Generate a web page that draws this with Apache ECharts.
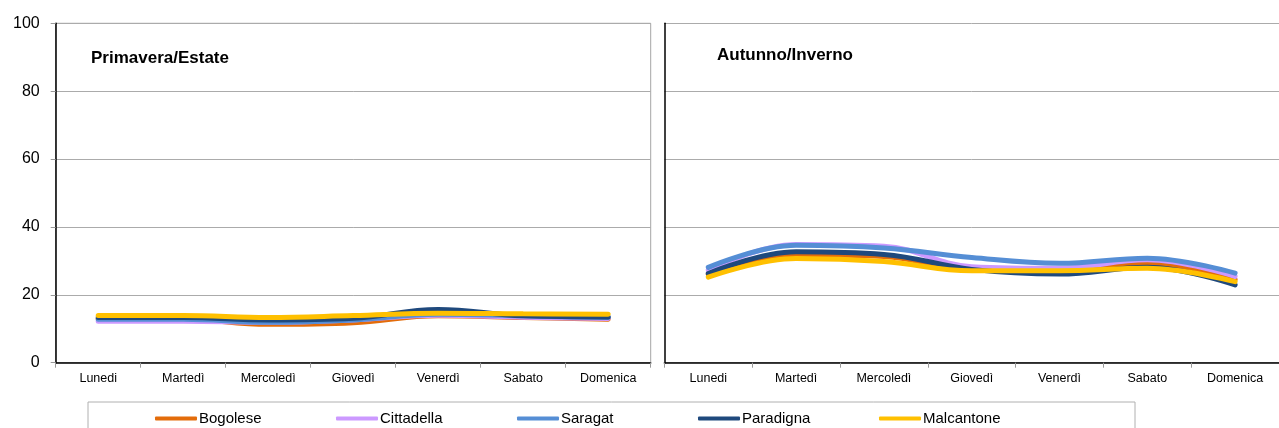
<!DOCTYPE html>
<html>
<head>
<meta charset="utf-8">
<script src="https://cdn.jsdelivr.net/npm/echarts@6/dist/echarts.min.js"></script>
<style>
html,body{margin:0;padding:0;background:#fff;}
#chart{width:1279px;height:428px;}
</style>
</head>
<body>
<div id="chart"></div>
<script>
const days = ['Lunedi', 'Martedì', 'Mercoledì', 'Giovedì', 'Venerdì', 'Sabato', 'Domenica'];
const seriesNames = ['Bogolese', 'Cittadella', 'Saragat', 'Paradigna', 'Malcantone'];
const seriesColors = ['#E36C0A', '#CC99FF', '#558ED5', '#1F497D', '#FFC000'];
const panelTitles = ['Primavera/Estate', 'Autunno/Inverno'];
const yTicks = [0, 20, 40, 60, 80, 100];

// Primavera/Estate
const springBogolese   = [13.0, 12.9, 11.3, 11.8, 13.8, 13.3, 12.8];
const springCittadella = [12.2, 12.2, 11.9, 12.6, 14.0, 13.4, 13.0];
const springSaragat    = [12.8, 12.8, 11.9, 12.6, 14.3, 13.8, 13.3];
const springParadigna  = [13.3, 13.3, 12.6, 13.1, 15.7, 13.8, 13.5];
const springMalcantone = [13.9, 13.9, 13.3, 13.9, 14.6, 14.4, 14.3];

// Autunno/Inverno
const autumnBogolese   = [26.0, 31.8, 31.3, 27.5, 27.3, 29.2, 24.5];
const autumnCittadella = [27.3, 34.8, 34.3, 28.3, 27.8, 30.3, 25.4];
const autumnSaragat    = [28.1, 34.6, 33.8, 31.0, 29.3, 30.8, 26.4];
const autumnParadigna  = [26.3, 32.7, 31.9, 27.5, 26.1, 28.1, 22.9];
const autumnMalcantone = [25.2, 30.7, 29.8, 27.1, 27.1, 27.8, 23.9];

const springData = [springBogolese, springCittadella, springSaragat, springParadigna, springMalcantone];
const autumnData = [autumnBogolese, autumnCittadella, autumnSaragat, autumnParadigna, autumnMalcantone];

const FONT = 'Liberation Sans, Arial, sans-serif';
const chart = echarts.init(document.getElementById('chart'));

function xAxisFor(gridIndex) {
  return {
    type: 'category', gridIndex: gridIndex, data: days, boundaryGap: true,
    axisLine: {show: true, lineStyle: {color: '#000', width: 1.5}},
    axisTick: {show: true, length: 5, lineStyle: {color: '#999'}},
    axisLabel: {color: '#000', fontSize: 12.5, fontFamily: FONT, margin: 9, interval: 0},
    splitLine: {show: false}
  };
}
function yAxisFor(gridIndex, showLabels) {
  return {
    type: 'value', gridIndex: gridIndex, min: yTicks[0], max: yTicks[yTicks.length - 1], interval: 20,
    axisLine: {show: true, lineStyle: {color: '#000', width: 1.5}},
    axisTick: {show: showLabels, length: 5, lineStyle: {color: '#999'}},
    axisLabel: {show: showLabels, color: '#000', fontSize: 16, fontFamily: FONT, margin: 16},
    splitLine: {show: true, lineStyle: {color: '#ababab', width: 1}}
  };
}

const series = [];
[springData, autumnData].forEach(function (set, p) {
  set.forEach(function (vals, i) {
    series.push({
      name: seriesNames[i], type: 'line', xAxisIndex: p, yAxisIndex: p,
      data: vals, smooth: 0.4, symbol: 'none', showSymbol: false,
      lineStyle: {color: seriesColors[i], width: 5, cap: 'round'},
      itemStyle: {color: seriesColors[i]},
      emphasis: {disabled: true}, animation: false
    });
  });
});

const legendSlots = seriesNames.map(function (n, i) {
  return {
    data: [n], left: 155 + i * 181, top: 411, orient: 'horizontal',
    icon: 'roundRect', itemWidth: 42, itemHeight: 4, itemGap: 2,
    textStyle: {color: '#000', fontSize: 15, fontFamily: FONT, padding: [0, 0, 0, -3]},
    padding: 0, selectedMode: false
  };
});

chart.setOption({
  backgroundColor: '#fff',
  animation: false,
  title: [
    {text: panelTitles[0], left: 91, top: 50, padding: 0,
     textStyle: {fontSize: 17, fontWeight: 'bold', color: '#000', fontFamily: FONT}},
    {text: panelTitles[1], left: 717, top: 47, padding: 0,
     textStyle: {fontSize: 17, fontWeight: 'bold', color: '#000', fontFamily: FONT}}
  ],
  grid: [
    {left: 55.7, top: 23.3, width: 595, height: 339.4, show: true, borderColor: '#a6a6a6', borderWidth: 1, backgroundColor: 'transparent'},
    {left: 664.4, top: 23.3, width: 631, height: 339.4}
  ],
  xAxis: [xAxisFor(0), xAxisFor(1)],
  yAxis: [yAxisFor(0, true), yAxisFor(1, false)],
  legend: legendSlots,
  graphic: [
    {type: 'rect', shape: {x: 88, y: 402, width: 1047, height: 40},
     style: {fill: 'none', stroke: '#b0b0b0', lineWidth: 1}, silent: true, z: -1}
  ],
  series: series
});
</script>
</body>
</html>
